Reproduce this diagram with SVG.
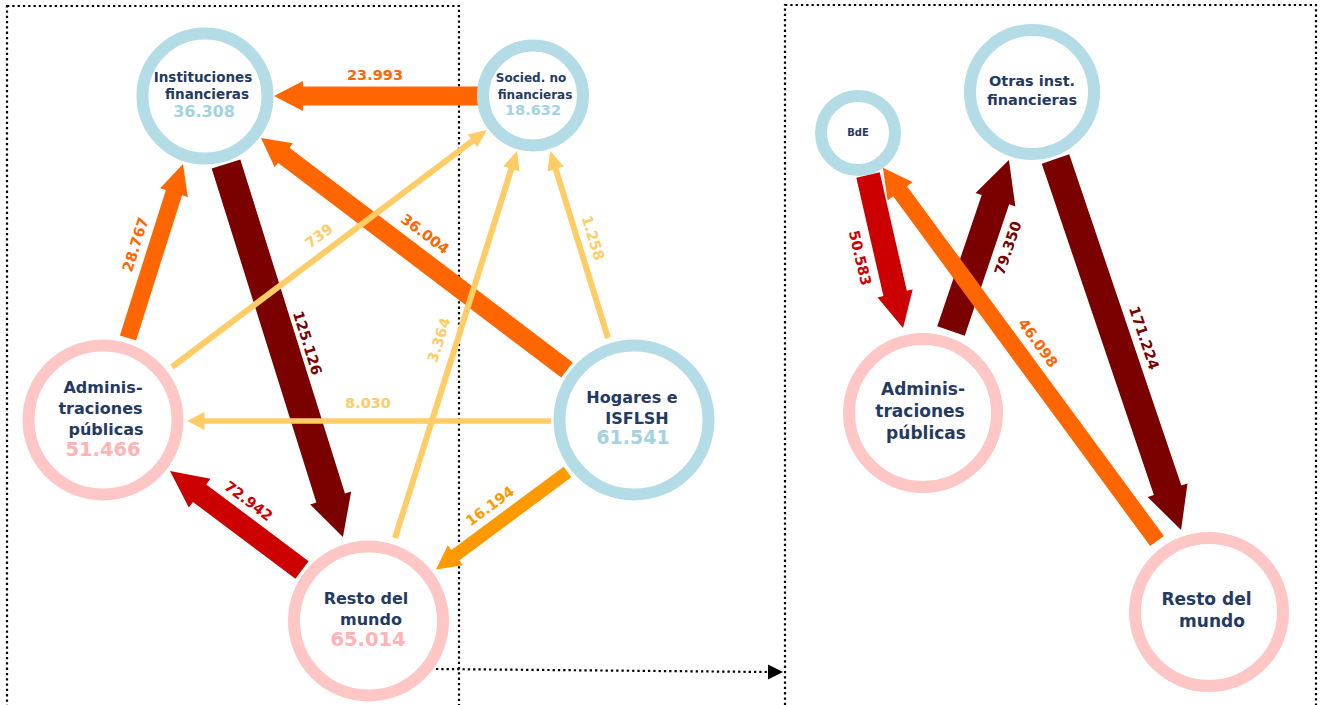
<svg xmlns="http://www.w3.org/2000/svg" width="1320" height="705" viewBox="0 0 1320 705">
<style>
text{font-family:"DejaVu Sans",Verdana,sans-serif;font-weight:bold;text-anchor:middle}
.frame{fill:none;stroke:#000;stroke-width:2.2;stroke-dasharray:2.3 3}
.nb{fill:#fff;stroke:#b4dce6;stroke-width:12}
.np{fill:#fff;stroke:#ffc6c6;stroke-width:12}
.t{fill:#253a60}
.vb{fill:#a2d3e3}
.vp{fill:#ffb3b3}
.lab{font-size:14.5px}
.o{fill:#ff6600}.dr{fill:#7b0000}.r{fill:#cc0000}.lo{fill:#ffcc66}.o2{fill:#ff9900}
</style>
<rect class="frame" x="7" y="6" width="452" height="720"/>
<rect class="frame" x="785" y="5" width="531" height="720"/>
<g id="connectors">
<path class="dr" transform="translate(226,164) rotate(72.6)" d="M0,-15H350V-21.5L391,0L350,21.5V15H0Z"/>
<path class="dr" transform="translate(1055.5,159) rotate(71.3)" d="M0,-14.5H349.7V-21L391.7,0L349.7,21V14.5H0Z"/>
<path class="dr" transform="translate(951,331) rotate(-71.3)" d="M0,-14.5H138.6V-21L180.6,0L138.6,21V14.5H0Z"/>
<path class="r" transform="translate(302,570) rotate(-143.13)" d="M0,-11H128V-18L165,0L128,18V11H0Z"/>
<path class="r" transform="translate(868,175) rotate(77.1)" d="M0,-12H121.5V-18L157,0L121.5,18V12H0Z"/>
<path class="o" transform="translate(480,96) rotate(180)" d="M0,-9.5H177V-15L206,0L177,15V9.5H0Z"/>
<path class="o" transform="translate(128,338) rotate(-72.46)" d="M0,-8.5H152.5V-14.5L182.5,0L152.5,14.5V8.5H0Z"/>
<path class="o" transform="translate(567,370) rotate(-142.83)" d="M0,-9.5H355.5V-15L384,0L355.5,15V9.5H0Z"/>
<path class="o" transform="translate(1157,541) rotate(-126.3)" d="M0,-8.5H434V-15.5L463,0L434,15.5V8.5H0Z"/>
<path class="o2" transform="translate(567.5,472) rotate(143.45)" d="M0,-6.5H139.7V-12.5L163.7,0L139.7,12.5V6.5H0Z"/>
<path class="lo" transform="translate(172,367) rotate(-36.96)" d="M0,-3H376V-8L394,0L376,8V3H0Z"/>
<path class="lo" transform="translate(551,421) rotate(180)" d="M0,-2.75H346.5V-9L364,0L346.5,9V2.75H0Z"/>
<path class="lo" transform="translate(395,538) rotate(-72.5)" d="M0,-3H387V-8.5L406,0L387,8.5V3H0Z"/>
<path class="lo" transform="translate(608,338) rotate(-107.2)" d="M0,-3H177V-8.5L196,0L177,8.5V3H0Z"/>
<line x1="436" y1="669" x2="769" y2="672" stroke="#000" stroke-width="2.2" stroke-dasharray="2.3 3"/>
<polygon points="783,672 768,664.5 768,679.5" fill="#000"/>
</g>
<g id="labels" class="lab">
<text class="o" x="375" y="80">23.993</text>
<text class="o" transform="translate(135.5,244.5) rotate(-72.5)" y="5">28.767</text>
<text class="dr" transform="translate(307.5,343) rotate(72.6)" y="5">125.126</text>
<text class="o" transform="translate(425,234) rotate(37)" y="5">36.004</text>
<text class="lo" transform="translate(319,236) rotate(-37)" y="5">739</text>
<text class="lo" transform="translate(593,238) rotate(72.8)" y="5">1.258</text>
<text class="lo" transform="translate(439,340) rotate(-72.5)" y="5">3.364</text>
<text class="lo" x="368" y="408">8.030</text>
<text class="r" transform="translate(248.5,501) rotate(37)" y="5">72.942</text>
<text class="o2" transform="translate(490,506) rotate(-36.5)" y="5">16.194</text>
<text class="r" transform="translate(860,258) rotate(77)" y="5">50.583</text>
<text class="dr" transform="translate(1008,248) rotate(-71.3)" y="5">79.350</text>
<text class="o" transform="translate(1038,343) rotate(54)" y="5">46.098</text>
<text class="dr" transform="translate(1144,338) rotate(71.3)" y="5">171.224</text>
</g>
<g id="n-instituciones">
<circle class="nb" cx="205" cy="96" r="62.5"/>
<text class="t" x="203" y="82" font-size="13.5">Instituciones</text>
<text class="t" x="207" y="99" font-size="13.5">financieras</text>
<text class="vb" x="204" y="117" font-size="16">36.308</text>
</g>
<g id="n-socied">
<circle class="nb" cx="533" cy="95.5" r="50"/>
<text class="t" x="531" y="82" font-size="12">Socied. no</text>
<text class="t" x="535" y="99" font-size="12">financieras</text>
<text class="vb" x="533" y="115" font-size="14.5">18.632</text>
</g>
<g id="n-admin">
<circle class="np" cx="103" cy="420" r="74.5"/>
<text class="t" x="103" y="393" font-size="16">Adminis-</text>
<text class="t" x="100.5" y="414" font-size="16">traciones</text>
<text class="t" x="106" y="435" font-size="16">públicas</text>
<text class="vp" x="103" y="456" font-size="19.5">51.466</text>
</g>
<g id="n-resto">
<circle class="np" cx="368.5" cy="621" r="74.5"/>
<text class="t" x="366" y="604" font-size="16">Resto del</text>
<text class="t" x="371" y="625" font-size="16">mundo</text>
<text class="vp" x="368" y="646" font-size="19.5">65.014</text>
</g>
<g id="n-hogares">
<circle class="nb" cx="634" cy="420" r="74.5"/>
<text class="t" x="632" y="403" font-size="16">Hogares e</text>
<text class="t" x="637" y="424" font-size="16">ISFLSH</text>
<text class="vb" x="633" y="444" font-size="19">61.541</text>
</g>
<g id="n-bde">
<circle class="nb" cx="858" cy="133" r="37"/>
<text class="t" x="858" y="136" font-size="10">BdE</text>
</g>
<g id="n-otras">
<circle class="nb" cx="1032" cy="92" r="62"/>
<text class="t" x="1032" y="86" font-size="14.5">Otras inst.</text>
<text class="t" x="1032" y="105" font-size="14.5">financieras</text>
</g>
<g id="n-admin2">
<circle class="np" cx="923" cy="413" r="74"/>
<text class="t" x="923" y="395" font-size="17">Adminis-</text>
<text class="t" x="920" y="417" font-size="17">traciones</text>
<text class="t" x="926" y="439" font-size="17">públicas</text>
</g>
<g id="n-resto2">
<circle class="np" cx="1209" cy="612" r="74"/>
<text class="t" x="1206.5" y="605" font-size="17">Resto del</text>
<text class="t" x="1212" y="627" font-size="17">mundo</text>
</g>
</svg>
